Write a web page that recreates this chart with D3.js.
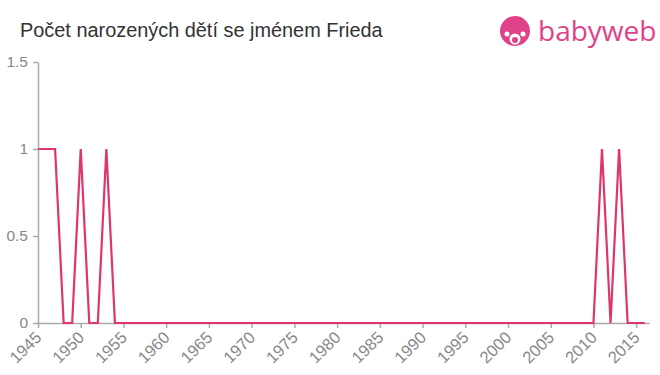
<!DOCTYPE html>
<html>
<head>
<meta charset="utf-8">
<script src="https://cdn.jsdelivr.net/npm/d3@7"></script>
<style>
  body { margin: 0; background: #fff; }
  text { font-family: "Liberation Sans", Arial, sans-serif; }
</style>
</head>
<body>
<div id="chart"></div>
<script>
const WIDTH = 660;
const HEIGHT = 375;
const MARGIN = { top: 62, right: 11, bottom: 52, left: 38 };

const years = d3.range(1945, 2017);
const births = [
  1, 1, 1, 0, 0, 1, 0, 0, 1, 0,   // 1945-1954
  0, 0, 0, 0, 0, 0, 0, 0, 0, 0,   // 1955-1964
  0, 0, 0, 0, 0, 0, 0, 0, 0, 0,   // 1965-1974
  0, 0, 0, 0, 0, 0, 0, 0, 0, 0,   // 1975-1984
  0, 0, 0, 0, 0, 0, 0, 0, 0, 0,   // 1985-1994
  0, 0, 0, 0, 0, 0, 0, 0, 0, 0,   // 1995-2004
  0, 0, 0, 0, 0, 0, 1, 0, 1, 0,   // 2005-2014
  0, 0                            // 2015-2016
];
const xTicks = d3.range(1945, 2016, 5);
const yTicks = [0, 0.5, 1, 1.5];

const svg = d3.select("#chart")
  .append("svg")
    .attr("width", WIDTH)
    .attr("height", HEIGHT);

const x = d3.scaleLinear()
  .domain([1945, 2016.5])
  .range([MARGIN.left, WIDTH - MARGIN.right]);

const y = d3.scaleLinear()
  .domain([0, 1.5])
  .range([HEIGHT - MARGIN.bottom, MARGIN.top]);

// title
svg.append("text")
  .attr("x", 20)
  .attr("y", 37)
  .attr("fill", "#333")
  .style("font-size", "19.9px")
  .text("Počet narozených dětí se jménem Frieda");

// logo
const logo = svg.append("g").attr("transform", "translate(515, 31)");
logo.append("circle").attr("r", 15).attr("fill", "#e0428a");
logo.append("circle").attr("cx", 0).attr("cy", 8).attr("r", 5.5).attr("fill", "#fff");
logo.append("circle").attr("cx", -8).attr("cy", 3).attr("r", 2.5).attr("fill", "#fff");
logo.append("circle").attr("cx", 8).attr("cy", 3).attr("r", 2.5).attr("fill", "#fff");
logo.append("circle").attr("cx", 0).attr("cy", 9).attr("r", 3).attr("fill", "#e0428a");
logo.append("text")
  .attr("x", 23)
  .attr("y", 10)
  .attr("fill", "#e0428a")
  .style("font-size", "28px")
  .style("font-family", "'Open Sans', sans-serif")
  .text("babyweb");

// axes
const xAxis = svg.append("g")
  .attr("transform", `translate(0, ${HEIGHT - MARGIN.bottom})`)
  .call(d3.axisBottom(x).tickValues(xTicks).tickFormat(d3.format("d")).tickSize(5).tickSizeOuter(0));

xAxis.selectAll("text")
  .attr("fill", "#888")
  .style("font-size", "16.5px")
  .attr("text-anchor", "end")
  .attr("x", -8)
  .attr("y", 8)
  .attr("dy", "0.35em")
  .attr("transform", "rotate(-45)");

const yAxis = svg.append("g")
  .attr("transform", `translate(${MARGIN.left}, 0)`)
  .call(d3.axisLeft(y).tickValues(yTicks).tickFormat(d3.format("")).tickSize(5).tickSizeOuter(0));

yAxis.selectAll("text")
  .attr("fill", "#888")
  .style("font-size", "15.5px")
  .attr("x", -10);

svg.selectAll(".domain, .tick line")
  .attr("stroke", "#aaa")
  .attr("stroke-width", 1.5);

// line
const line = d3.line()
  .x((d, i) => x(years[i]))
  .y(d => y(d));

svg.append("path")
  .datum(births)
  .attr("fill", "none")
  .attr("stroke", "#e0356b")
  .attr("stroke-width", 2.2)
  .attr("d", line);
</script>
</body>
</html>
